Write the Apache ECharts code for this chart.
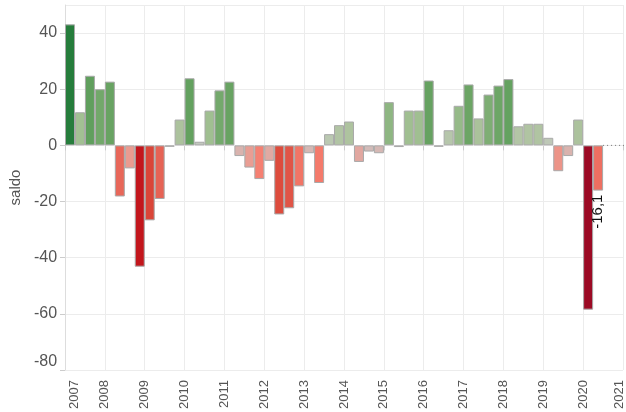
<!DOCTYPE html>
<html>
<head>
<meta charset="utf-8">
<script src="https://cdn.jsdelivr.net/npm/echarts@6/dist/echarts.min.js"></script>
<style>
  html, body { margin: 0; padding: 0; background: #fff; }
  #chart { width: 626px; height: 412px; }
</style>
</head>
<body>
<div id="chart"></div>
<script>
// kwartalen 2007-Q1 t/m 2020-Q2
const quarters = [
  '2007-Q1', '2007-Q2', '2007-Q3', '2007-Q4',
  '2008-Q1', '2008-Q2', '2008-Q3', '2008-Q4',
  '2009-Q1', '2009-Q2', '2009-Q3', '2009-Q4',
  '2010-Q1', '2010-Q2', '2010-Q3', '2010-Q4',
  '2011-Q1', '2011-Q2', '2011-Q3', '2011-Q4',
  '2012-Q1', '2012-Q2', '2012-Q3', '2012-Q4',
  '2013-Q1', '2013-Q2', '2013-Q3', '2013-Q4',
  '2014-Q1', '2014-Q2', '2014-Q3', '2014-Q4',
  '2015-Q1', '2015-Q2', '2015-Q3', '2015-Q4',
  '2016-Q1', '2016-Q2', '2016-Q3', '2016-Q4',
  '2017-Q1', '2017-Q2', '2017-Q3', '2017-Q4',
  '2018-Q1', '2018-Q2', '2018-Q3', '2018-Q4',
  '2019-Q1', '2019-Q2', '2019-Q3', '2019-Q4',
  '2020-Q1', '2020-Q2'
]

const saldo = [
  43.1, 11.8, 24.8, 20.0,
  22.7, -18.2, -8.2, -43.2,
  -26.7, -19.1, -0.5, 9.2,
  23.9, 1.3, 12.4, 19.6,
  22.7, -3.8, -7.9, -12.0,
  -5.5, -24.6, -22.4, -14.6,
  -2.8, -13.4, 4.0, 7.2,
  8.5, -5.9, -2.2, -2.8,
  15.4, -0.6, 12.4, 12.4,
  23.1, -0.5, 5.4, 14.1,
  21.7, 9.6, 18.1, 21.3,
  23.6, 6.8, 7.7, 7.7,
  2.7, -9.2, -3.8, 9.2,
  -58.5, -16.1
]

const yearTicks = [2007, 2021]
const yTicks = [-80, 50]

// kwartaal -> midden van het kwartaal op de tijd-as
const quarterPos = (q) => {
  const [y, k] = q.split('-Q')
  return Number(y) + (Number(k) - 1) / 4 + 1 / 8
}

// kleurschaal: grijs rond 0, rood negatief, groen positief
const negStops = [[0, '#c6c6c6'], [3, '#d6b7b3'], [8, '#e99c92'], [12.5, '#f67d6e'], [18, '#e8685a'], [25, '#dc4a3b'], [43, '#c4161c'], [59, '#9b0a24']]
const posStops = [[0, '#c6c8c4'], [4, '#bac8b1'], [8.5, '#aec39f'], [12.5, '#a0bf91'], [20, '#72a86a'], [25, '#5f9f5c'], [43, '#267d3c']]

const hex = (c) => [1, 3, 5].map(i => parseInt(c.slice(i, i + 2), 16))
const mix = (a, b, t) => {
  const ca = hex(a), cb = hex(b)
  return 'rgb(' + ca.map((v, i) => Math.round(v + (cb[i] - v) * t)).join(',') + ')'
}
const colorFor = (v) => {
  const stops = v < 0 ? negStops : posStops
  const a = Math.abs(v)
  for (let i = 1; i < stops.length; i++) {
    if (a <= stops[i][0]) {
      const t = (a - stops[i - 1][0]) / (stops[i][0] - stops[i - 1][0])
      return mix(stops[i - 1][1], stops[i][1], t)
    }
  }
  return stops[stops.length - 1][1]
}

const last = saldo.length - 1
const barData = quarters.map((q, i) => {
  const item = { value: [quarterPos(q), saldo[i]] }
  if (i === last) {
    item.label = {
      show: true,
      position: 'bottom',
      rotate: 90,
      align: 'right',
      verticalAlign: 'middle',
      distance: 4,
      fontSize: 15,
      color: '#111',
      formatter: () => String(saldo[i]).replace('.', ',')
    }
  }
  return item
})

const lastEnd = quarterPos(quarters[last]) + 1 / 8
const font = 'Liberation Sans, Arial, sans-serif'

const chart = echarts.init(document.getElementById('chart'))

chart.setOption({
  animation: false,
  textStyle: { fontFamily: font },
  grid: { left: 63, right: 3, top: 5, bottom: 42, containLabel: false },
  xAxis: {
    type: 'value',
    min: yearTicks[0],
    max: yearTicks[1],
    interval: 1,
    axisLine: { show: false },
    axisTick: { show: true, length: 5, lineStyle: { color: '#cccccc' } },
    splitLine: { show: true, lineStyle: { color: '#ececec' } },
    axisLabel: {
      rotate: 90,
      margin: 10,
      fontSize: 13,
      color: '#555',
      formatter: (v) => {
        if (v === yearTicks[0]) return '{first|' + v + '}'
        if (v === yearTicks[1]) return '{lastY|' + v + '}'
        return String(v)
      },
      rich: {
        first: { fontSize: 13, color: '#555', padding: [18, 0, 0, 0] },
        lastY: { fontSize: 13, color: '#555', padding: [0, 0, 7, 0] }
      }
    }
  },
  yAxis: {
    type: 'value',
    min: yTicks[0],
    max: yTicks[1],
    interval: 20,
    name: 'saldo',
    nameLocation: 'middle',
    nameGap: 38,
    nameTextStyle: { fontSize: 15, color: '#555' },
    axisLine: { show: true, lineStyle: { color: '#dddddd' } },
    axisTick: { show: true, length: 5, lineStyle: { color: '#cccccc' } },
    splitLine: { show: true, lineStyle: { color: '#ececec' } },
    axisLabel: {
      showMaxLabel: false,
      margin: 8,
      fontSize: 16,
      color: '#555',
      formatter: (v) => v === yTicks[0] ? '{low|' + v + '}' : String(v),
      rich: {
        low: { fontSize: 16, color: '#555', padding: [0, 0, 16, 0] }
      }
    }
  },
  series: [
    {
      type: 'bar',
      barWidth: 10,
      data: barData,
      itemStyle: {
        color: (p) => colorFor(p.value[1]),
        borderColor: '#a9a9a9',
        borderWidth: 1
      }
    },
    {
      type: 'line',
      symbol: 'none',
      clip: false,
      data: [[lastEnd, 0], [yearTicks[1] + 0.08, 0]],
      lineStyle: { color: '#777', width: 1, type: [1, 3] }
    }
  ]
})
</script>
</body>
</html>
